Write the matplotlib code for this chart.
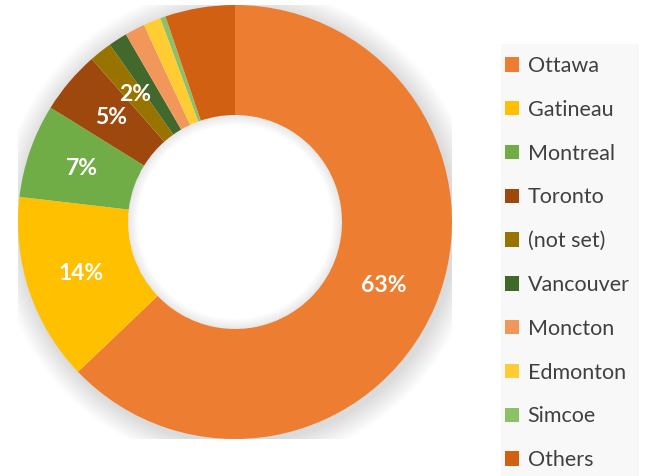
import matplotlib
matplotlib.use("Agg")
import matplotlib.pyplot as plt
from matplotlib.patches import Rectangle, Wedge
import numpy as np

categories = ["Ottawa", "Gatineau", "Montreal", "Toronto", "(not set)",
              "Vancouver", "Moncton", "Edmonton", "Simcoe", "Others"]
values = [63.0, 14.0, 7.0, 4.7, 1.7, 1.4, 1.5, 1.3, 0.4, 5.2]
colors = ["#ED7D31", "#FFC000", "#70AD47", "#9E480E", "#997300",
          "#43682B", "#F1975A", "#FFCD33", "#8CC168", "#D26012"]
shown_labels = ["63%", "14%", "7%", "5%", "2%", "", "", "", "", ""]

plt.rcParams['font.family'] = ['Lato', 'DejaVu Sans']

W, H = 650, 476
fig = plt.figure(figsize=(W / 100, H / 100), dpi=100)
fig.patch.set_facecolor("white")

cx, cy, R = 235, 222, 217
ax = fig.add_axes([(cx - R) / W, (H - cy - R) / H, 2 * R / W, 2 * R / H])

inner = 0.493
# soft outer shadow (annuli outside the ring)
for k in range(18):
    ax.add_patch(Wedge((0.012, -0.016), 1.0 + (k + 1) * 0.006, 0, 360,
                       width=(k + 1) * 0.006 + 0.02,
                       facecolor="black", edgecolor="none",
                       alpha=0.009, zorder=0))

wedges, _ = ax.pie(values, colors=colors, startangle=90, counterclock=False,
                   radius=1.0, wedgeprops=dict(width=1 - inner, edgecolor="none",
                                               linewidth=0),
                   frame=True)
for w in wedges:
    w.set_zorder(2)
ax.set_xlim(-1, 1)
ax.set_ylim(-1, 1)
ax.set_aspect("equal")
ax.axis("off")

# inner shadow within hole
for k in range(12):
    ax.add_patch(Wedge((0, 0), inner, 0, 360, width=0.003 + k * 0.004,
                       facecolor="black", edgecolor="none", alpha=0.009, zorder=3))

# percentage labels
total = sum(values)
start = 90.0
mid_r = (1 + inner) / 2
for v, lab in zip(values, shown_labels):
    ang = start - v / total * 360 / 2
    start -= v / total * 360
    if lab:
        x = mid_r * np.cos(np.radians(ang))
        y = mid_r * np.sin(np.radians(ang))
        ax.text(x, y, lab, ha="center", va="center", color="white",
                fontsize=16.5, fontweight="bold", zorder=5)

# legend background
fig.patches.append(Rectangle((501 / W, 0), (639 - 501) / W, (H - 44) / H,
                             transform=fig.transFigure, facecolor="#F8F8F8",
                             edgecolor="none", zorder=0))

leg = fig.legend(wedges, categories, loc="upper left",
                 bbox_to_anchor=(505 / W, (H - 56) / H), frameon=False,
                 fontsize=15.5, labelcolor="#404040", handlelength=0.65,
                 handleheight=0.65, handletextpad=0.4, labelspacing=1.105,
                 borderaxespad=0, borderpad=0.0)

fig.savefig("out.png", dpi=100)
